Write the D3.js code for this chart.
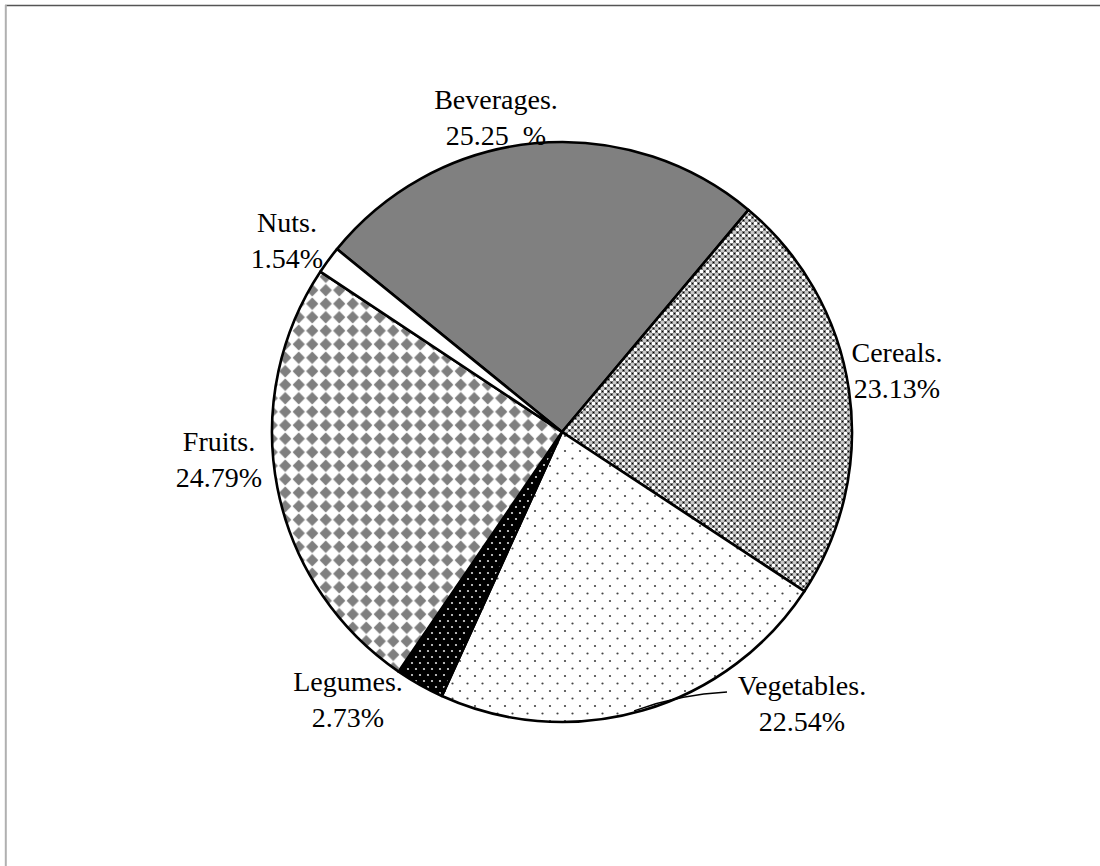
<!DOCTYPE html>
<html>
<head>
<meta charset="utf-8">
<script src="https://cdn.jsdelivr.net/npm/d3@7"></script>
<style>
  html, body { margin: 0; padding: 0; background: #fff; overflow: hidden; }
  svg { display: block; }
  text { font-family: "Liberation Serif", "Times New Roman", serif; font-size: 28px; fill: #000; }
</style>
</head>
<body>
<svg id="chart" width="1100" height="866"></svg>
<script>
// ---- data ----
const categories = ["Beverages.", "Cereals.", "Vegetables.", "Legumes.", "Fruits.", "Nuts."];
const values = [25.25, 23.13, 22.54, 2.73, 24.79, 1.54];
const valueLabels = ["25.25  %", "23.13%", "22.54%", "2.73%", "24.79%", "1.54%"];

// ---- layout ----
const W = 1100, H = 866;
const cx = 562, cy = 432, R = 290;
const startDeg = -50.9;
// label anchor (center x, first baseline) per category
const labelPos = {
  "Beverages.": [496, 109],
  "Cereals.": [897, 362],
  "Vegetables.": [802, 695],
  "Legumes.": [348, 691],
  "Fruits.": [219, 451],
  "Nuts.": [287, 232]
};
const lineGap = 36;

const svg = d3.select("#chart");
const defs = svg.append("defs");

// patterns
const pCer = defs.append("pattern").attr("id", "p-cer").attr("patternUnits", "userSpaceOnUse").attr("width", 6).attr("height", 6);
pCer.append("rect").attr("width", 6).attr("height", 6).attr("fill", "#7a7a7a");
pCer.append("rect").attr("x", 0).attr("y", 0).attr("width", 3).attr("height", 3).attr("fill", "#ffffff");
pCer.append("rect").attr("x", 3).attr("y", 3).attr("width", 3).attr("height", 3).attr("fill", "#c8c8c8");
pCer.append("rect").attr("x", 4).attr("y", 1).attr("width", 1).attr("height", 1).attr("fill", "#000");
pCer.append("rect").attr("x", 1).attr("y", 4).attr("width", 1).attr("height", 1).attr("fill", "#000");

const pVeg = defs.append("pattern").attr("id", "p-veg").attr("patternUnits", "userSpaceOnUse").attr("width", 15).attr("height", 15);
pVeg.append("rect").attr("width", 15).attr("height", 15).attr("fill", "#fff");
pVeg.append("circle").attr("cx", 3).attr("cy", 4).attr("r", 1.1).attr("fill", "#444");
pVeg.append("circle").attr("cx", 10.5).attr("cy", 11.5).attr("r", 1.1).attr("fill", "#444");

const pLeg = defs.append("pattern").attr("id", "p-leg").attr("patternUnits", "userSpaceOnUse").attr("width", 8).attr("height", 12);
pLeg.append("rect").attr("width", 8).attr("height", 12).attr("fill", "#000");
pLeg.append("circle").attr("cx", 2).attr("cy", 3).attr("r", 1.1).attr("fill", "#ddd");
pLeg.append("circle").attr("cx", 6).attr("cy", 9).attr("r", 1.1).attr("fill", "#ddd");

const pFru = defs.append("pattern").attr("id", "p-fru").attr("patternUnits", "userSpaceOnUse").attr("width", 13.5).attr("height", 13.5);
pFru.append("rect").attr("width", 13.5).attr("height", 13.5).attr("fill", "#fff");
pFru.append("path").attr("d", "M6.75,0.6 L12.9,6.75 L6.75,12.9 L0.6,6.75 Z").attr("fill", "#7f7f7f");

const fills = {
  "Beverages.": "#808080",
  "Cereals.": "url(#p-cer)",
  "Vegetables.": "url(#p-veg)",
  "Legumes.": "url(#p-leg)",
  "Fruits.": "url(#p-fru)",
  "Nuts.": "#ffffff"
};

// frame lines
svg.append("line").attr("x1", 5).attr("y1", 5.5).attr("x2", W).attr("y2", 5.5).attr("stroke", "#555").attr("stroke-width", 1.5);
svg.append("line").attr("x1", 5.8).attr("y1", 5).attr("x2", 5.8).attr("y2", H).attr("stroke", "#b0b0b0").attr("stroke-width", 2);

const data = categories.map((c, i) => ({ cat: c, value: values[i], label: valueLabels[i] }));
const toRad = d => d * Math.PI / 180;
const pie = d3.pie().sort(null).value(d => d.value)
  .startAngle(toRad(startDeg)).endAngle(toRad(startDeg) + 2 * Math.PI);
const arc = d3.arc().innerRadius(0).outerRadius(R);

const g = svg.append("g").attr("transform", `translate(${cx},${cy})`);
const arcs = pie(data);
g.selectAll("path.slice").data(arcs).enter().append("path")
  .attr("class", "slice")
  .attr("d", arc)
  .attr("fill", d => fills[d.data.cat])
  .attr("stroke", "#000")
  .attr("stroke-width", 2.6)
  .attr("stroke-linejoin", "round");

// leader line for Vegetables
const veg = arcs.find(d => d.data.cat === "Vegetables.");
const la = veg.startAngle + (veg.endAngle - veg.startAngle) * 0.52;
const p0 = [Math.sin(la) * (R - 2), -Math.cos(la) * (R - 2)];
const vp = labelPos["Vegetables."];
const p1 = [vp[0] - 75 - cx, vp[1] - 3 - cy];
g.append("path")
  .attr("d", `M${p0[0]},${p0[1]} Q${(p0[0] + p1[0]) / 2},${p1[1] + 2} ${p1[0]},${p1[1]}`)
  .attr("fill", "none").attr("stroke", "#000").attr("stroke-width", 1.3);

// labels
const lg = svg.append("g");
data.forEach(d => {
  const [x, y] = labelPos[d.cat];
  const t = lg.append("text").attr("text-anchor", "middle");
  t.append("tspan").attr("x", x).attr("y", y).text(d.cat);
  t.append("tspan").attr("x", x).attr("y", y + lineGap).style("white-space", "pre").text(d.label);
});
</script>
</body>
</html>
